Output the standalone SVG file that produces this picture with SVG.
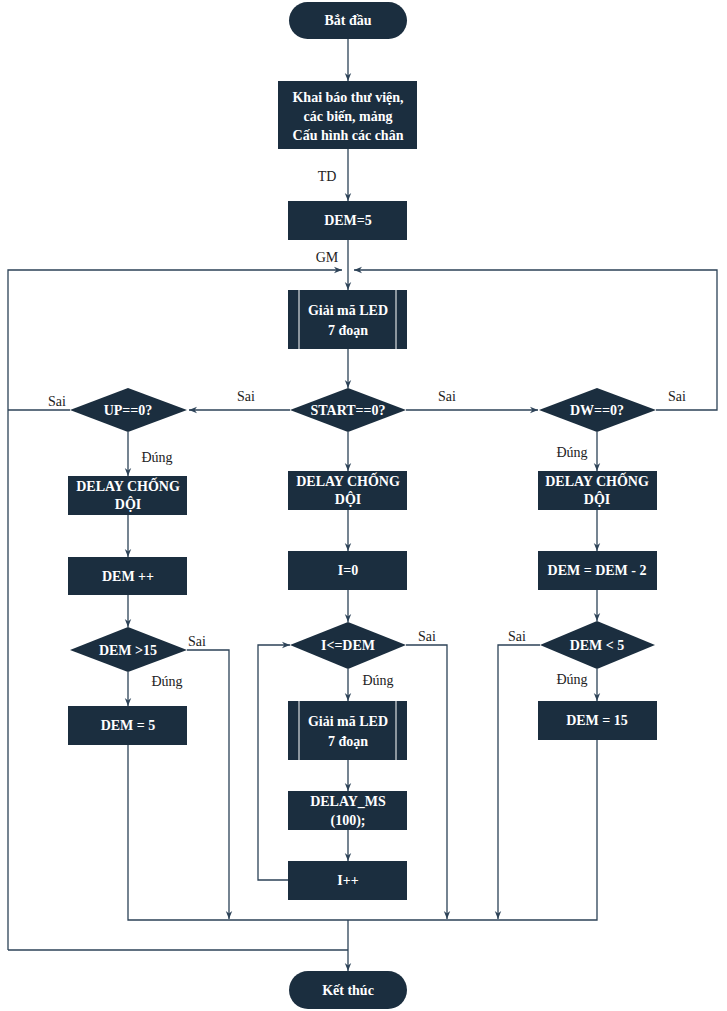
<svg xmlns="http://www.w3.org/2000/svg" width="727" height="1011" viewBox="0 0 727 1011">
<style>
.n{fill:#1b2e3f}
.t{fill:#ffffff;font-family:"Liberation Serif",serif;font-weight:bold;font-size:14px;text-anchor:middle}
.l{fill:#222222;font-family:"Liberation Serif",serif;font-size:14px;text-anchor:middle}
.c{stroke:#2c4257;stroke-width:1.3;fill:none}
.a{marker-end:url(#ah)}
.s{stroke:#ffffff;stroke-width:1}
</style>
<defs>
<marker id="ah" viewBox="0 0 10 10" refX="10" refY="5" markerWidth="8" markerHeight="8" markerUnits="userSpaceOnUse" orient="auto">
<path d="M0,1 L10,5 L0,9 L3,5 z" fill="#2c4257"/>
</marker>
</defs>
<rect width="727" height="1011" fill="#ffffff"/>
<g id="connectors">
<line class="c a" x1="348" y1="39" x2="348" y2="81"/>
<line class="c a" x1="348" y1="149" x2="348" y2="201"/>
<line class="c a" x1="348" y1="240" x2="348" y2="290"/>
<polyline class="c a" points="8,410 8,270 342,270"/>
<polyline class="c a" points="656,410 717,410 717,270 354,270"/>
<line class="c" x1="8" y1="410" x2="8" y2="950"/>
<line class="c" x1="70" y1="410" x2="8" y2="410"/>
<line class="c" x1="8" y1="950" x2="348" y2="950"/>
<line class="c a" x1="348" y1="349" x2="348" y2="388"/>
<line class="c a" x1="290" y1="410" x2="189" y2="410"/>
<line class="c a" x1="406" y1="410" x2="538" y2="410"/>
<line class="c a" x1="128" y1="432" x2="128" y2="476"/>
<line class="c a" x1="128" y1="515" x2="128" y2="557"/>
<line class="c a" x1="128" y1="595" x2="128" y2="627"/>
<polyline class="c a" points="187,650 229,650 229,919"/>
<line class="c a" x1="128" y1="672" x2="128" y2="706"/>
<polyline class="c" points="128,745 128,920 597,920 597,740"/>
<line class="c a" x1="348" y1="432" x2="348" y2="471"/>
<line class="c a" x1="348" y1="510" x2="348" y2="551"/>
<line class="c a" x1="348" y1="590" x2="348" y2="622"/>
<polyline class="c a" points="406,645 447,645 447,919"/>
<polyline class="c a" points="288,880 258,880 258,645 290,645"/>
<line class="c a" x1="348" y1="669" x2="348" y2="701"/>
<line class="c a" x1="348" y1="760" x2="348" y2="791"/>
<line class="c a" x1="348" y1="830" x2="348" y2="861"/>
<line class="c a" x1="348" y1="920" x2="348" y2="971"/>
<line class="c a" x1="597" y1="432" x2="597" y2="471"/>
<line class="c a" x1="597" y1="510" x2="597" y2="551"/>
<line class="c a" x1="597" y1="590" x2="597" y2="621"/>
<polyline class="c a" points="540,645 498,645 498,919"/>
<line class="c a" x1="597" y1="669" x2="597" y2="701"/>
</g>
<g id="labels">
<text class="l" x="327" y="181">TD</text>
<text class="l" x="327" y="262">GM</text>
<text class="l" x="246" y="401">Sai</text>
<text class="l" x="447" y="401">Sai</text>
<text class="l" x="57" y="406">Sai</text>
<text class="l" x="677" y="401">Sai</text>
<text class="l" x="157" y="462">Đúng</text>
<text class="l" x="572" y="457">Đúng</text>
<text class="l" x="197" y="646">Sai</text>
<text class="l" x="427" y="641">Sai</text>
<text class="l" x="517" y="641">Sai</text>
<text class="l" x="167" y="686">Đúng</text>
<text class="l" x="378" y="685">Đúng</text>
<text class="l" x="572" y="684">Đúng</text>
</g>
<g id="start">
<rect class="n" x="289" y="2" width="118" height="37" rx="18.5"/>
<text class="t" x="348" y="25">Bắt đầu</text>
</g>
<g id="init">
<rect class="n" x="278" y="81" width="139" height="68"/>
<text class="t" x="348" y="102">Khai báo thư viện,</text>
<text class="t" x="348" y="121">các biến, mảng</text>
<text class="t" x="348" y="140">Cấu hình các chân</text>
</g>
<g id="dem5">
<rect class="n" x="288" y="201" width="119" height="39"/>
<text class="t" x="348" y="225">DEM=5</text>
</g>
<g id="decode1">
<rect class="n" x="288" y="290" width="119" height="59"/>
<line class="s" x1="299" y1="290" x2="299" y2="349"/>
<line class="s" x1="396" y1="290" x2="396" y2="349"/>
<text class="t" x="348" y="315">Giải mã LED</text>
<text class="t" x="348" y="335">7 đoạn</text>
</g>
<g id="start_dec">
<polygon class="n" points="348,388 406,410 348,432 290,410"/>
<text class="t" x="348" y="415">START==0?</text>
</g>
<g id="up_dec">
<polygon class="n" points="128,388 187,410 128,432 70,410"/>
<text class="t" x="128" y="415">UP==0?</text>
</g>
<g id="dw_dec">
<polygon class="n" points="597,388 656,410 597,432 539,410"/>
<text class="t" x="597" y="415">DW==0?</text>
</g>
<g id="delay_left">
<rect class="n" x="68" y="476" width="119" height="39"/>
<text class="t" x="128" y="491">DELAY CHỐNG</text>
<text class="t" x="128" y="509">DỘI</text>
</g>
<g id="deminc">
<rect class="n" x="68" y="557" width="119" height="38"/>
<text class="t" x="128" y="581">DEM ++</text>
</g>
<g id="dem15_dec">
<polygon class="n" points="128,627 187,650 128,672 70,650"/>
<text class="t" x="128" y="655">DEM &gt;15</text>
</g>
<g id="dem_eq5">
<rect class="n" x="68" y="706" width="119" height="39"/>
<text class="t" x="128" y="730">DEM = 5</text>
</g>
<g id="delay_mid">
<rect class="n" x="288" y="471" width="119" height="39"/>
<text class="t" x="348" y="486">DELAY CHỐNG</text>
<text class="t" x="348" y="504">DỘI</text>
</g>
<g id="i0">
<rect class="n" x="288" y="551" width="119" height="39"/>
<text class="t" x="348" y="575">I=0</text>
</g>
<g id="ile_dec">
<polygon class="n" points="348,622 406,645 348,669 290,645"/>
<text class="t" x="348" y="650">I&lt;=DEM</text>
</g>
<g id="decode2">
<rect class="n" x="288" y="701" width="119" height="59"/>
<line class="s" x1="299" y1="701" x2="299" y2="760"/>
<line class="s" x1="396" y1="701" x2="396" y2="760"/>
<text class="t" x="348" y="726">Giải mã LED</text>
<text class="t" x="348" y="746">7 đoạn</text>
</g>
<g id="delayms">
<rect class="n" x="288" y="791" width="119" height="39"/>
<text class="t" x="348" y="806">DELAY_MS</text>
<text class="t" x="348" y="825">(100);</text>
</g>
<g id="iinc">
<rect class="n" x="288" y="861" width="119" height="39"/>
<text class="t" x="348" y="885">I++</text>
</g>
<g id="delay_right">
<rect class="n" x="538" y="471" width="119" height="39"/>
<text class="t" x="597" y="486">DELAY CHỐNG</text>
<text class="t" x="597" y="504">DỘI</text>
</g>
<g id="demdec">
<rect class="n" x="538" y="551" width="119" height="39"/>
<text class="t" x="597" y="575">DEM = DEM - 2</text>
</g>
<g id="dem5_dec">
<polygon class="n" points="597,621 655,645 597,669 540,645"/>
<text class="t" x="597" y="650">DEM &lt; 5</text>
</g>
<g id="dem_eq15">
<rect class="n" x="538" y="701" width="119" height="39"/>
<text class="t" x="597" y="725">DEM = 15</text>
</g>
<g id="end">
<rect class="n" x="289" y="971" width="118" height="38" rx="19"/>
<text class="t" x="348" y="995">Kết thúc</text>
</g>
</svg>
